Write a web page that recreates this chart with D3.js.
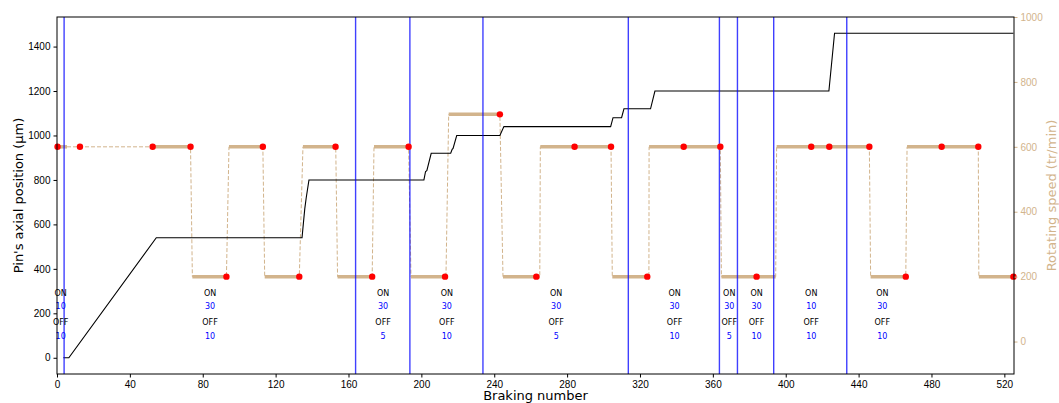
<!DOCTYPE html>
<meta charset="utf-8">
<style>
body { margin: 0; background: #fff; }
svg { font-family: "DejaVu Sans", sans-serif; }
.tick text { font-size: 10px; }
</style>
<body>
<script src="https://d3js.org/d3.v7.min.js"></script>
<script>

// pin position (black step line)
var posX = [3.5, 6.5, 54.5, 134.5, 135.3, 136, 136.8, 138.3, 201.4, 202.3, 203, 205.4,
            216.1, 216.9, 217.4, 219.4, 243.1, 245.3, 303.9, 305.2, 309.9, 311.2,
            325.8, 328.2, 423.7, 426.8, 525];
var posY = [0, 0, 540, 540, 610, 670, 720, 800, 800, 838, 842, 920,
            920, 938, 942, 1000, 1000, 1040, 1040, 1080, 1080, 1120,
            1120, 1200, 1200, 1460, 1460];

// rotating speed plateaus: start, end, speed
var segStart = [0, 52.5, 74.3, 94.4, 114, 135, 154, 174, 194.3, 215, 244.8, 265.3, 304.8, 325, 364.7, 395, 446.6, 466.6, 506];
var segEnd   = [5.5, 73.3, 93, 113, 133, 153, 173, 193, 213.5, 243.1, 265, 304.1, 324.9, 364.1, 394.5, 445.9, 465.9, 505.7, 525];
var segSpeed = [600, 600, 200, 600, 200, 600, 200, 600, 200, 700, 200, 600, 200, 600, 200, 600, 200, 600, 200];

// red markers
var dotX = [0.3, 12.6, 52.5, 73.3, 93, 113, 133, 152.9, 173, 193, 213, 243.1, 263.1, 284.1, 304.1,
            324, 344, 364.1, 384, 414, 423.9, 445.9, 465.9, 485.6, 505.7, 525];
var dotSpeed = [600, 600, 600, 600, 200, 600, 200, 600, 200, 600, 200, 700, 200, 600, 600,
                200, 600, 600, 200, 600, 600, 600, 200, 600, 600, 200];

// vertical blue lines
var vLines = [3.9, 163.9, 193.7, 233.8, 313.6, 363.6, 373.5, 393.4, 433.5];

// ON / OFF annotations
var annotX = [2, 84, 179, 214, 274, 339, 369, 384, 414, 453];
var onVals = [10, 30, 30, 30, 30, 30, 30, 30, 10, 30];
var offVals = [10, 10, 5, 10, 5, 10, 5, 10, 10, 10];

var xTicks = d3.range(0, 521, 40);
var yTicks = d3.range(0, 1401, 200);
var y2Ticks = d3.range(0, 1001, 200);

var tan = "#d2b48c";

var margin = {top: 17, right: 45, bottom: 29, left: 57},
    width = 1059 - margin.left - margin.right,
    height = 403 - margin.top - margin.bottom;

var x = d3.scaleLinear().domain([0, 525.3]).range([0, width]);
var y = d3.scaleLinear().domain([-73, 1533]).range([height, 0]);
var y2 = d3.scaleLinear().domain([-100, 1000]).range([height, 0]);

var svg = d3.select("body").append("svg")
    .attr("width", 1059)
    .attr("height", 403)
  .append("g")
    .attr("transform", "translate(" + margin.left + "," + margin.top + ")");

svg.append("clipPath").attr("id", "plot")
  .append("rect").attr("width", width).attr("height", height);

var plot = svg.append("g").attr("clip-path", "url(#plot)");

// dashed connectors between plateaus
var conn = [[segEnd[0], segSpeed[0]]];
for (var i = 1; i < segStart.length; i++) {
  conn.push([segStart[i], segSpeed[i]]);
  conn.push([segEnd[i], segSpeed[i]]);
}
plot.append("path")
    .datum(conn)
    .attr("fill", "none")
    .attr("stroke", tan)
    .attr("stroke-width", 1)
    .attr("stroke-dasharray", "4,2")
    .attr("d", d3.line().x(function(d) { return x(d[0]); }).y(function(d) { return y2(d[1]); }));

// thick plateaus
plot.selectAll(".seg")
    .data(segStart)
  .enter().append("line")
    .attr("class", "seg")
    .attr("x1", function(d) { return x(d); })
    .attr("x2", function(d, i) { return x(segEnd[i]); })
    .attr("y1", function(d, i) { return y2(segSpeed[i]); })
    .attr("y2", function(d, i) { return y2(segSpeed[i]); })
    .attr("stroke", tan)
    .attr("stroke-width", 3.5);

// pin position
plot.append("path")
    .datum(posX)
    .attr("fill", "none")
    .attr("stroke", "#000")
    .attr("stroke-width", 1.1)
    .attr("d", d3.line().x(function(d) { return x(d); }).y(function(d, i) { return y(posY[i]); }));

// vertical lines
plot.selectAll(".vl")
    .data(vLines)
  .enter().append("line")
    .attr("class", "vl")
    .attr("x1", function(d) { return x(d); })
    .attr("x2", function(d) { return x(d); })
    .attr("y1", 0)
    .attr("y2", height)
    .attr("stroke", "blue")
    .attr("stroke-opacity", 0.75)
    .attr("stroke-width", 1.4);

// red dots
svg.selectAll(".dot")
    .data(dotX)
  .enter().append("circle")
    .attr("class", "dot")
    .attr("cx", function(d) { return x(d); })
    .attr("cy", function(d, i) { return y2(dotSpeed[i]); })
    .attr("r", 3.2)
    .attr("fill", "red");

// annotations
var rows = [
  {v: 290, col: "#000", txt: function() { return "ON"; }},
  {v: 233, col: "blue", txt: function(i) { return onVals[i]; }},
  {v: 161, col: "#000", txt: function() { return "OFF"; }},
  {v: 99, col: "blue", txt: function(i) { return offVals[i]; }}
];
rows.forEach(function(r) {
  svg.selectAll(null)
      .data(annotX)
    .enter().append("text")
      .attr("x", function(d) { return x(d); })
      .attr("y", y(r.v))
      .attr("dy", "0.35em")
      .attr("text-anchor", "middle")
      .style("font-size", "8px")
      .attr("fill", r.col)
      .text(function(d, i) { return r.txt(i); });
});

// axes
svg.append("g")
    .attr("transform", "translate(0," + height + ")")
    .call(d3.axisBottom(x).tickValues(xTicks).tickFormat(d3.format("d")).tickSize(3.5).tickPadding(3).tickSizeOuter(0));

svg.append("g")
    .call(d3.axisLeft(y).tickValues(yTicks).tickFormat(d3.format("d")).tickSize(3.5).tickPadding(3).tickSizeOuter(0));

var ax2 = svg.append("g")
    .attr("transform", "translate(" + width + ",0)")
    .call(d3.axisRight(y2).tickValues(y2Ticks).tickFormat(d3.format("d")).tickSize(3.5).tickPadding(3).tickSizeOuter(0));
ax2.selectAll(".tick line").attr("stroke", tan);
ax2.selectAll(".tick text").attr("fill", tan);

svg.selectAll(".domain").attr("stroke", "none");

// frame
svg.append("rect")
    .attr("width", width)
    .attr("height", height)
    .attr("fill", "none")
    .attr("stroke", "#000")
    .attr("stroke-width", 1);

// labels
svg.append("text")
    .attr("transform", "rotate(-90)")
    .attr("x", -height / 2)
    .attr("y", -margin.left + 18)
    .attr("dy", "0.35em")
    .attr("text-anchor", "middle")
    .style("font-size", "13px")
    .text("Pin's axial position (µm)");

svg.append("text")
    .attr("transform", "rotate(-90)")
    .attr("x", -height / 2)
    .attr("y", width + 37)
    .attr("dy", "0.35em")
    .attr("text-anchor", "middle")
    .style("font-size", "13px")
    .attr("fill", tan)
    .text("Rotating speed (tr/min)");

svg.append("text")
    .attr("x", width / 2)
    .attr("y", height + 26)
    .attr("text-anchor", "middle")
    .style("font-size", "13px")
    .text("Braking number");

</script>
</body>
